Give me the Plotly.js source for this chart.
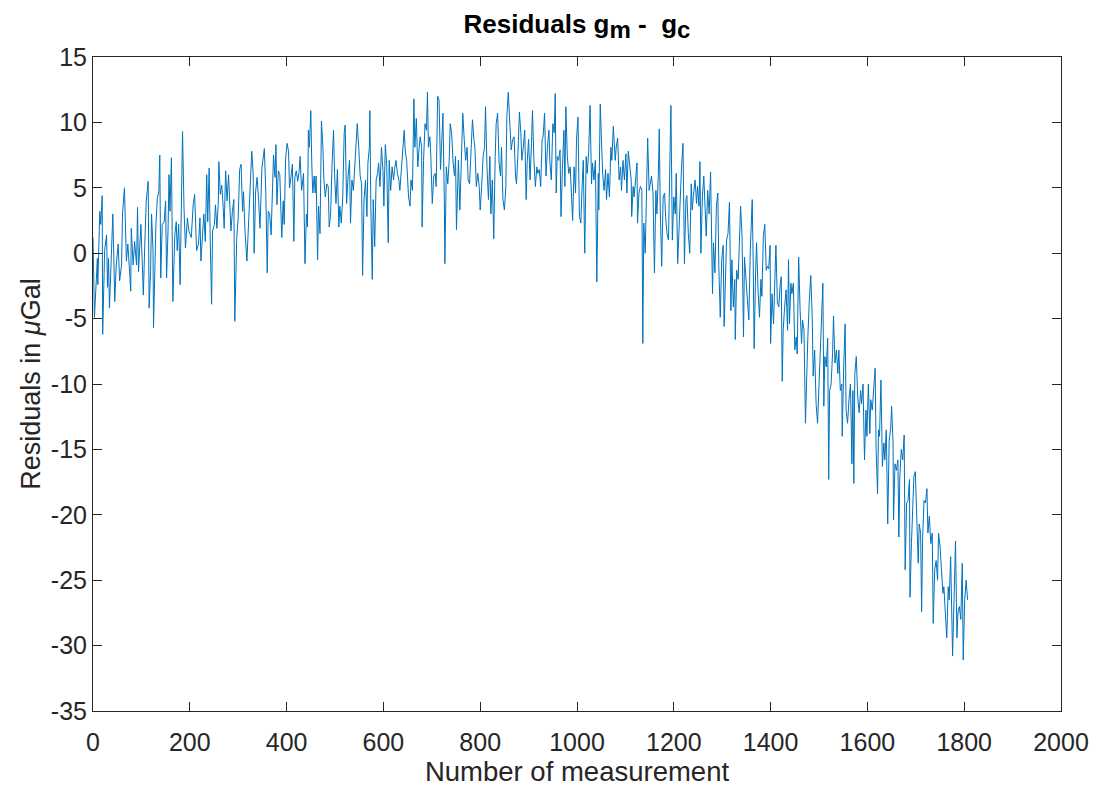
<!DOCTYPE html>
<html>
<head>
<meta charset="utf-8">
<script src="https://cdn.plot.ly/plotly-3.0.1.min.js"></script>
<style>
html,body{margin:0;padding:0;background:#fff;}
#chart{width:1097px;height:789px;}
</style>
</head>
<body>
<div id="chart"></div>
<script>
const measurement = [
0,3,9,10,14,16,19,20,24,28,30,32,34,38,41,45,48,52,55,59,61,65,69,72,78,79,83,86,90,92,94,99,102,104,107,110,114,116,119,121,124,125,130,133,136,138,140,143,147,150,152,155,157,159,162,165,169,172,174,177,180,183,185,188,191,195,198,203,207,210,
214,218,221,223,226,229,232,235,237,240,242,245,247,251,253,256,259,260,263,266,269,271,274,277,280,282,285,288,291,293,297,300,303,306,309,311,314,318,321,324,328,331,333,336,339,342,345,349,351,354,357,360,362,365,368,371,373,376,378,380,383,386,390,393,395,398,401,404,406,409,412,415,417,420,423,426,
428,431,435,438,441,443,445,447,450,452,454,457,459,461,464,466,469,472,475,477,480,483,486,488,491,494,497,499,502,505,508,510,513,516,519,521,524,527,530,532,535,538,541,543,546,549,552,555,557,560,563,566,568,571,572,574,577,579,582,585,588,590,593,596,599,601,604,607,610,612,615,618,621,623,626,629,632,634,637,640,643,
645,648,652,655,657,660,663,665,668,671,674,676,679,680,683,686,689,691,693,696,698,701,704,707,709,712,715,718,720,723,726,727,730,733,736,738,741,744,747,749,751,755,758,762,764,767,770,773,775,778,781,784,787,789,792,795,798,800,803,806,809,811,814,817,820,822,825,828,831,833,836,839,842,844,847,850,853,855,858,
862,864,867,870,873,875,878,881,884,886,889,892,895,897,900,903,906,908,911,914,917,919,922,925,928,930,933,936,939,942,944,947,950,953,955,957,959,962,965,967,970,973,975,977,980,983,986,988,991,994,997,999,1002,1005,1008,1010,1013,1016,1019,1021,1024,1027,1030,1032,1035,1038,1041,1044,1045,1048,1050,1053,1056,1059,1061,1064,1067,1070,1072,1075,
1079,1081,1084,1087,1090,1092,1095,1098,1101,1103,1106,1109,1112,1113,1116,1118,1121,1124,1125,1128,1131,1134,1136,1138,1141,1143,1146,1149,1152,1154,1157,1160,1163,1165,1168,1170,1172,1175,1178,1181,1183,1186,1189,1192,1194,1197,1200,1203,1205,1208,1211,1214,1216,1219,1222,1225,1227,1230,1233,1236,1238,1241,1244,1247,1249,1252,1254,1256,1259,1262,1265,1267,1270,1273,1276,1278,1280,1282,1285,1288,1291,1293,1296,1299,1302,1304,
1307,1309,1312,1315,1318,1320,1323,1326,1327,1330,1333,1335,1338,1341,1344,1346,1349,1352,1355,1358,1360,1362,1364,1366,1369,1371,1374,1377,1380,1382,1385,1388,1391,1393,1396,1399,1400,1403,1406,1409,1411,1414,1417,1420,1422,1424,1426,1429,1432,1435,1437,1439,1442,1444,1447,1450,1453,1455,1458,1461,1464,1466,1469,1472,1475,1477,1480,1483,1486,1488,1491,1494,1497,1499,1502,1505,1508,1510,
1512,1515,1518,1520,1522,1525,1528,1530,1533,1536,1539,1541,1544,1547,1548,1551,1554,1556,1559,1562,1565,1568,1570,1572,1574,1577,1580,1583,1586,1588,1591,1594,1597,1599,1602,1605,1607,1610,1613,1616,1618,1621,1623,1625,1628,1631,1634,1636,1639,1642,1645,1648,1650,1653,1654,1657,1660,1663,1665,
1667,1670,1673,1676,1678,1681,1684,1687,1688,1691,1694,1696,1699,1702,1705,1707,1710,1712,1714,1717,1720,1723,1725,1728,1731,1734,1736,1739,1742,1745,1747,1750,1753,1756,1758,1761,1764,1767,1769,1772,1775,1776,1779,1782,1785,1787,1790,1793,1796,1798,1801,1804,1807
];

// Residuals g_m - g_c in µGal
const residual = [
1.2,-4.9,-0.4,-2.4,3.2,2.2,4.4,-6.2,0.2,1.4,-2.6,-0.4,-4.2,0.7,3.0,-3.7,-0.9,0.7,-2.1,-0.9,3.0,5.0,-0.6,0.7,-2.9,1.9,-0.9,0.9,-0.9,3.5,-1.4,2.2,-2.4,-3.2,0.7,4.0,5.5,-4.2,-1.4,3.0,0.2,-5.7,2.2,4.2,4.7,7.5,-1.9,2.2,2.4,4.0,-1.9,1.7,6.0,3.2,7.3,-3.7,1.4,2.4,0.2,2.2,-2.4,4.7,9.3,3.5,0.4,2.7,1.7,1.2,3.7,4.5,
0.2,0.7,2.7,-0.6,1.2,3.0,0.9,6.0,2.4,6.5,1.4,-3.9,1.7,2.2,3.7,1.9,4.0,7.0,4.5,5.2,3.5,1.9,6.3,4.0,6.0,4.0,1.7,3.2,4.1,-5.2,1.2,2.7,6.4,6.8,3.2,4.7,1.7,-0.6,1.7,5.2,7.8,6.0,0.0,4.7,5.8,4.2,1.9,6.5,7.3,8.0,4.7,-1.5,3.2,3.0,1.4,5.2,7.5,5.8,8.3,3.7,6.3,6.0,1.2,4.0,2.2,7.3,8.4,7.8,5.0,5.8,6.8,0.9,5.8,6.3,5.5,6.3,
7.4,4.8,6.1,-0.8,3.0,2.0,9.4,8.1,10.9,6.9,4.6,5.9,4.6,5.9,-0.5,3.6,1.5,10.1,8.1,5.6,4.3,5.3,5.1,2.0,3.0,6.9,9.4,6.1,3.8,6.4,2.0,3.6,2.3,4.3,9.2,9.8,3.8,5.9,7.1,2.3,5.6,4.8,6.4,8.1,9.9,8.1,5.9,5.3,-1.7,4.1,5.6,2.8,6.9,8.1,10.9,3.6,-2.0,4.1,0.5,5.6,6.1,6.9,5.1,8.1,6.4,3.6,8.3,6.6,0.8,7.1,4.8,6.6,5.6,6.4,7.1,6.1,5.6,4.8,6.6,8.1,9.4,
7.9,7.1,4.3,3.6,5.6,4.8,11.8,8.1,10.3,6.6,8.1,8.9,8.1,2.0,7.1,9.9,9.4,12.3,8.1,8.9,7.4,3.8,5.9,6.1,5.1,12.0,11.7,6.4,8.1,10.7,3.8,-0.8,6.6,5.3,7.1,9.9,9.2,6.9,5.9,7.4,1.8,7.1,3.3,9.2,10.7,8.7,7.1,8.1,5.6,5.3,7.4,10.2,8.7,8.1,5.1,6.1,5.1,3.3,5.1,7.4,8.1,11.2,6.6,4.1,7.4,3.0,5.6,1.1,7.4,9.9,10.7,6.9,5.9,8.1,4.1,3.3,5.1,10.4,12.3,
9.2,7.9,8.7,8.9,5.9,5.3,7.6,10.8,9.2,7.1,8.1,9.4,4.1,6.9,8.7,5.6,8.4,10.9,7.1,5.1,6.6,6.1,6.4,5.1,8.7,8.9,10.7,5.9,8.1,9.4,6.9,5.6,9.9,9.2,12.2,4.6,7.4,7.1,7.9,2.8,6.6,9.4,5.1,11.2,7.4,6.1,6.6,5.1,2.5,6.6,4.6,8.7,10.4,2.8,2.3,4.6,7.1,0.0,7.4,6.1,7.6,11.3,5.3,6.9,5.6,7.1,-2.2,6.1,3.3,11.4,8.9,6.1,4.8,6.4,4.1,6.1,4.3,8.1,7.1,9.7,
7.1,8.1,8.8,5.6,6.6,4.8,7.1,5.6,7.6,4.6,7.8,6.4,5.6,2.8,5.1,4.3,5.9,6.9,2.3,4.6,5.1,4.8,-6.9,2.3,0.0,5.1,8.8,4.8,5.6,5.9,4.6,-1.5,4.8,3.0,5.9,9.5,3.3,-1.0,4.3,4.6,2.8,1.5,1.0,5.9,11.3,1.0,4.3,3.0,6.1,-0.8,2.5,5.1,6.6,8.4,-0.8,4.1,4.4,1.5,0.0,5.3,3.3,4.6,5.6,3.8,5.1,3.6,7.0,0.0,4.3,5.9,2.5,1.3,4.8,3.0,6.2,0.5,-3.1,0.8,-1.5,3.6,4.6,-1.0,-4.9,-0.5,0.6,-5.6,
-0.8,1.0,1.5,3.9,-4.4,-0.5,-4.1,-2.0,-6.6,-1.3,-2.0,0.5,3.6,1.3,-6.4,-0.3,-1.8,-3.8,-5.1,0.2,2.8,4.1,-0.5,-7.3,-1.5,0.8,-2.8,-4.9,-2.0,-3.3,1.3,2.2,-1.3,-1.0,-1.2,0.6,-6.9,-3.1,-5.4,-2.0,0.6,-3.8,-4.1,-2.3,-1.8,-9.8,-5.9,-4.1,-2.8,-5.9,-0.5,-5.4,-2.3,-3.1,-2.3,-7.4,-6.4,-7.7,-0.3,-4.4,-6.9,-5.1,-5.9,-13.0,-7.4,-6.4,-3.6,-1.7,-4.9,-9.4,-7.4,-11.5,-13.0,-11.0,-7.4,-5.9,-2.3,-11.7,
-7.9,-8.7,-6.5,-17.3,-10.5,-10.0,-7.7,-4.8,-8.4,-7.4,-9.2,-7.4,-10.5,-10.0,-14.0,-8.7,-5.4,-12.0,-13.0,-11.2,-10.0,-16.1,-10.5,-17.6,-9.2,-7.9,-11.0,-12.2,-10.5,-11.5,-10.0,-15.8,-12.0,-14.0,-10.0,-13.8,-11.2,-12.0,-10.5,-8.8,-15.0,-18.4,-13.5,-14.0,-9.7,-16.3,-14.5,-15.8,-13.5,-20.7,-14.3,-13.5,-11.7,-14.5,-20.4,-16.1,-16.6,-15.8,-21.7,
-17.1,-15.0,-15.8,-13.9,-24.2,-19.1,-18.9,-17.3,-26.3,-22.2,-18.4,-17.1,-16.7,-19.6,-23.7,-20.7,-21.4,-27.4,-21.9,-18.9,-19.1,-18.0,-21.4,-20.1,-22.2,-21.4,-28.3,-24.2,-23.5,-25.0,-21.4,-22.4,-24.7,-26.0,-25.5,-27.5,-29.4,-25.5,-26.5,-23.2,-27.5,-30.8,-26.5,-22.0,-29.4,-27.5,-27.0,-28.0,-23.7,-31.1,-26.5,-25.0,-26.5
];

const xTicks = [0,200,400,600,800,1000,1200,1400,1600,1800,2000];
const yTicks = [-35,-30,-25,-20,-15,-10,-5,0,5,10,15];

const axisColor = '#262626';
const fontFam = '"Liberation Sans", Arial, Helvetica, sans-serif';

const trace = {
  x: measurement,
  y: residual,
  type: 'scatter',
  mode: 'lines',
  line: {color: '#0072BD', width: 1},
  hoverinfo: 'x+y'
};

const layout = {
  width: 1097,
  height: 789,
  margin: {l: 93, r: 36, t: 57, b: 78},
  paper_bgcolor: '#ffffff',
  plot_bgcolor: '#ffffff',
  showlegend: false,
  font: {family: fontFam, color: axisColor, size: 25},
  title: {
    text: '<b>Residuals g<sub><span style="font-size:24px">m</span></sub> -  g<sub><span style="font-size:24px">c</span></sub></b>',
    font: {family: fontFam, size: 26, color: '#000000'},
    x: 0.5, xanchor: 'center', xref: 'paper',
    y: 0.97, yanchor: 'middle', yref: 'container'
  },
  xaxis: {
    range: [0, 2000],
    tickvals: xTicks,
    ticktext: xTicks.map(String),
    ticks: 'inside',
    ticklen: 9,
    tickwidth: 1,
    tickcolor: axisColor,
    showline: true,
    linecolor: axisColor,
    linewidth: 1,
    mirror: 'ticks',
    showgrid: false,
    zeroline: false,
    ticklabelstandoff: 9,
    tickfont: {family: fontFam, size: 25, color: axisColor},
    title: {text: 'Number of measurement', font: {family: fontFam, size: 27.5, color: axisColor}, standoff: 4}
  },
  yaxis: {
    range: [-35, 15],
    tickvals: yTicks,
    ticktext: yTicks.map(String),
    ticks: 'inside',
    ticklen: 9,
    tickwidth: 1,
    tickcolor: axisColor,
    showline: true,
    linecolor: axisColor,
    linewidth: 1,
    mirror: 'ticks',
    showgrid: false,
    zeroline: false,
    tickfont: {family: fontFam, size: 25, color: axisColor},
    title: {text: 'Residuals in <i>μ</i>Gal', font: {family: fontFam, size: 27, color: axisColor}, standoff: 2}
  }
};

Plotly.newPlot('chart', [trace], layout, {displayModeBar: false, staticPlot: true});
</script>
</body>
</html>
